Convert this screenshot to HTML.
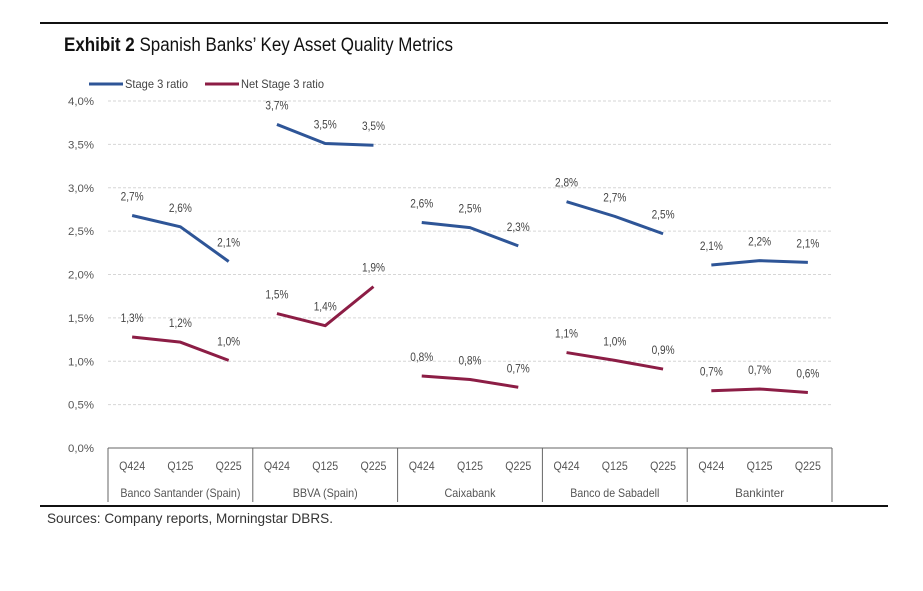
<!DOCTYPE html>
<html><head><meta charset="utf-8"><style>
body{margin:0;background:#fff;width:923px;height:586px;overflow:hidden;font-family:"Liberation Sans",sans-serif;}
svg text{font-family:"Liberation Sans",sans-serif;}
</style></head><body>
<svg id="c" width="923" height="586">
<line x1="40" y1="23" x2="888" y2="23" stroke="#111" stroke-width="2"/>
<text x="64" y="51" font-size="19" fill="#111" textLength="389" lengthAdjust="spacingAndGlyphs"><tspan font-weight="bold">Exhibit 2</tspan> Spanish Banks’ Key Asset Quality Metrics</text>
<g>
<line x1="89" y1="84" x2="123" y2="84" stroke="#2e5597" stroke-width="3"/>
<text x="125" y="88" font-size="12" fill="#444" textLength="63" lengthAdjust="spacingAndGlyphs">Stage 3 ratio</text>
<line x1="205" y1="84" x2="239" y2="84" stroke="#8c1d45" stroke-width="3"/>
<text x="241" y="88" font-size="12" fill="#444" textLength="83" lengthAdjust="spacingAndGlyphs">Net Stage 3 ratio</text>
</g>
<g id="grid"></g><g id="axis"></g><g id="marks"></g>
<line x1="40" y1="506" x2="888" y2="506" stroke="#111" stroke-width="2"/>
<text x="47" y="523" font-size="14" fill="#333" textLength="286" lengthAdjust="spacingAndGlyphs">Sources: Company reports, Morningstar DBRS.</text>
</svg>
<script>
const banks=["Banco Santander (Spain)","BBVA (Spain)","Caixabank","Banco de Sabadell","Bankinter"];
const quarters=["Q424","Q125","Q225"];
const stage3=[[2.68,2.55,2.15],[3.73,3.51,3.49],[2.60,2.54,2.33],[2.84,2.67,2.47],[2.11,2.16,2.14]];
const stage3Labels=[["2,7%","2,6%","2,1%"],["3,7%","3,5%","3,5%"],["2,6%","2,5%","2,3%"],["2,8%","2,7%","2,5%"],["2,1%","2,2%","2,1%"]];
const netStage3=[[1.28,1.22,1.01],[1.55,1.41,1.86],[0.83,0.79,0.70],[1.10,1.01,0.91],[0.66,0.68,0.64]];
const netLabels=[["1,3%","1,2%","1,0%"],["1,5%","1,4%","1,9%"],["0,8%","0,8%","0,7%"],["1,1%","1,0%","0,9%"],["0,7%","0,7%","0,6%"]];
const yTicks=[0,0.5,1,1.5,2,2.5,3,3.5,4];
const yTickLabels=["0,0%","0,5%","1,0%","1,5%","2,0%","2,5%","3,0%","3,5%","4,0%"];
const groupLabelWidths=[120,65,51,89,49];
const X0=108,X1=832,Y0=448,Y1=101;
const gw=(X1-X0)/banks.length;
function y(v){return Y0-(v/4)*(Y0-Y1);}
function x(g,q){return X0+g*gw+gw*(q+0.5)/3;}
const NS="http://www.w3.org/2000/svg";
function mk(parent,tag,attrs,txt){const e=document.createElementNS(NS,tag);for(const k in attrs)e.setAttribute(k,attrs[k]);if(txt!==undefined)e.textContent=txt;document.getElementById(parent).appendChild(e);return e;}
yTicks.forEach((t,i)=>{
 if(t>0){const l=mk("grid","line",{x1:X0,x2:X1,y1:y(t),y2:y(t),stroke:"#d6d6d6","stroke-dasharray":"3,2"});
 
 }
 const tx=mk("axis","text",{x:94,y:y(t)+4,"font-size":"11",fill:"#555","text-anchor":"end",textLength:"26",lengthAdjust:"spacingAndGlyphs"},yTickLabels[i]);
 
 
});
const base=mk("axis","line",{x1:X0,x2:X1,y1:Y0,y2:Y0,stroke:"#666","stroke-width":"1"});


for(let g=0;g<=banks.length;g++){const d=mk("axis","line",{x1:X0+g*gw,x2:X0+g*gw,y1:Y0,y2:502,stroke:"#666"});
 
 }
banks.forEach((b,g)=>{
 quarters.forEach((q,i)=>{const t=mk("axis","text",{x:x(g,i),y:470,"font-size":"11.5",fill:"#555","text-anchor":"middle",textLength:"26",lengthAdjust:"spacingAndGlyphs"},q);
  
  });
 const t=mk("axis","text",{x:X0+g*gw+gw/2,y:497,"font-size":"12",fill:"#555","text-anchor":"middle",textLength:String(groupLabelWidths[g]),lengthAdjust:"spacingAndGlyphs"},b);
 
 
});
function series(data,labels,color,name){
 data.forEach((vals,g)=>{
  const p=mk("marks","polyline",{points:vals.map((v,i)=>x(g,i)+","+y(v)).join(" "),fill:"none",stroke:color,"stroke-width":"3","stroke-linejoin":"round"});
  
  
  vals.forEach((v,i)=>{const t=mk("marks","text",{x:x(g,i),y:y(v)-15,"font-size":"11.5",fill:"#444","text-anchor":"middle",textLength:"23",lengthAdjust:"spacingAndGlyphs"},labels[g][i]);
   
   });
 });
}
series(stage3,stage3Labels,"#2e5597","stage3");
series(netStage3,netLabels,"#8c1d45","net-stage3");
</script>
</body></html>
